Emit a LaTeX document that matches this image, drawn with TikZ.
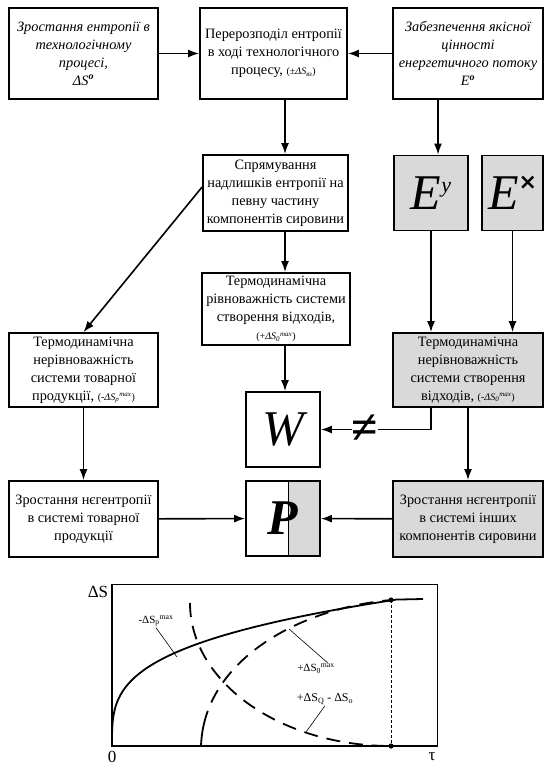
\documentclass[tikz,border=0pt]{standalone}
\usepackage{fontspec}
\setmainfont{Liberation Serif}
\newfontfamily\crossfont{DejaVu Sans}
\usepackage{tikz}
\usetikzlibrary{arrows.meta,positioning,calc}
\definecolor{boxgray}{RGB}{217,217,217}
\tikzstyle{arrow} = [line width=1.6pt,-{Latex[length=11pt,width=8pt]}]
\tikzstyle{block} = [rectangle, draw, line width=1.8pt, minimum width=149pt, minimum height=74pt, inner sep=1pt, align=center, font=\fontsize{14.3}{18}\selectfont]
\tikzstyle{grayblock} = [block, fill=boxgray]
\tikzstyle{letterbox} = [block, minimum width=74pt, minimum height=75pt, font=\fontsize{50}{50}\selectfont\itshape]
\tikzstyle{note} = [inner sep=1pt, font=\fontsize{11}{13}\selectfont]
\tikzstyle{leader} = [line width=0.6pt]
\tikzstyle{curve} = [line width=1.8pt]
\tikzstyle{dashcurve} = [line width=1.8pt, dash pattern=on 14pt off 9pt]
\newcommand{\smallpar}[1]{{\fontsize{10}{12}\selectfont #1}}

\begin{document}
\begin{tikzpicture}[x=1pt,y=-1pt]
    \useasboundingbox (0,0) rectangle (546,768);

    % Top row
    \node[block, minimum height=91pt, font=\fontsize{14.3}{18}\selectfont\itshape] (growS) at (83.5,53.5) {Зростання ентропії в\\технологічному\\процесі,\\ΔS\textsuperscript{\textbf{o}}};
    \node[block, minimum width=147pt, minimum height=91pt] (redist) at (273.5,53.5) {Перерозподіл ентропії\\в ході технологічного\\процесу, \smallpar{(±\textit{ΔS\textsubscript{вз}})}};
    \node[block, minimum width=150pt, minimum height=91pt, font=\fontsize{14.3}{18}\selectfont\itshape] (quality) at (468,53.5) {Забезпечення якісної\\цінності\\енергетичного потоку\\E\textsuperscript{\textbf{o}}};

    % Second row
    \node[block, minimum width=145pt, minimum height=76pt] (direct) at (275.5,193) {Спрямування\\надлишків ентропії на\\певну частину\\компонентів сировини};
    \node[letterbox, fill=boxgray] (Ey) at (431,193) {E\raisebox{17pt}{\fontsize{22}{22}\selectfont у}};
    \node[letterbox, fill=boxgray, minimum width=61pt] (Ex) at (512.5,193) {E\raisebox{20pt}{\crossfont\bfseries\fontsize{22}{22}\selectfont ×}};

    % Equilibrium states
    \node[block, minimum width=148pt, minimum height=72pt] (equil) at (276,309) {Термодинамічна\\рівноважність системи\\створення відходів,\\\smallpar{(+\textit{ΔS\textsubscript{0}\textsuperscript{max}})}};
    \node[block, minimum height=74pt] (noneqP) at (83.5,370) {Термодинамічна\\нерівноважність\\системи товарної\\продукції, \smallpar{(-\textit{ΔS\textsubscript{p}\textsuperscript{max}})}};
    \node[grayblock, minimum width=150pt, minimum height=74pt] (noneqW) at (468,370) {Термодинамічна\\нерівноважність\\системи створення\\відходів, \smallpar{(-\textit{ΔS\textsubscript{0}\textsuperscript{max}})}};

    % W and P
    \node[letterbox] (W) at (283,429.5) {W};
    \node[letterbox, font=\fontsize{50}{50}\selectfont\bfseries\itshape, path picture={
        \fill[boxgray] ($(path picture bounding box.north)+(5,0)$) rectangle (path picture bounding box.south east);
        \draw[line width=1pt] ($(path picture bounding box.north)+(5,0)$) -- ($(path picture bounding box.south)+(5,0)$);
    }] (P) at (283,518.5) {P};

    % Bottom row
    \node[block, minimum height=76pt] (negP) at (83.5,519) {Зростання нєгентропії\\в системі товарної\\продукції};
    \node[grayblock, minimum width=150pt, minimum height=76pt] (negW) at (468,519) {Зростання нєгентропії\\в системі інших\\компонентів сировини};

    % Arrows
    \coordinate (colC) at (285,0);
    \coordinate (colE) at (438,0);
    \draw[arrow] (growS) -- (redist);
    \draw[arrow] (quality) -- (redist);
    \draw[arrow] (redist.south -| colC) -- (direct.north -| colC);
    \draw[arrow] (quality.south -| colE) -- (Ey.north -| colE);
    \draw[arrow] (direct.south -| colC) -- (equil.north -| colC);
    \draw[arrow] ($(direct.west)+(0,-6)$) -- (noneqP.north);
    \draw[arrow] (Ey.south) -- (noneqW.north -| Ey.south);
    \draw[arrow] (Ex.south) -- (noneqW.north -| Ex.south);
    \draw[arrow] (equil.south -| colC) -- (W.north -| colC);
    \draw[arrow] (noneqW.south -| Ey) |- node[pos=0.8, fill=white, inner sep=0pt, font=\fontsize{48}{48}\selectfont\bfseries] (neq) {≠} (W.east);
    \draw[arrow] (noneqP) -- (negP);
    \draw[arrow] (noneqW) -- (negW);
    \draw[arrow] (negP) -- (P);
    \draw[arrow] (negW) -- (P);

    % Graph
    \coordinate (O) at (112,746);
    \draw[line width=0.8pt] (112,584) rectangle (437,746);
    \draw[curve] (112,584) -- (O) -- (437,746);
    \draw[curve] plot[domain=0:1, samples=120, smooth] ({112+288*\x^10}, {746-147*\x^3}) -- (423,599);
    \draw[dashcurve, dash pattern=on 36pt off 9pt on 14pt off 9pt on 14pt off 9pt on 14pt off 9pt on 14pt off 9pt on 14pt off 9pt on 14pt off 9pt on 14pt off 9pt on 14pt off 9pt on 14pt off 9pt on 30pt off 9pt] (201,746) .. controls (204,660) and (300,608) .. (391,600);
    \draw[dashcurve] (190,603) arc[start angle=180, end angle=90, x radius=201, y radius=143];
    \draw[leader, dash pattern=on 3pt off 2pt] (391,600) -- (391,746);
    \fill (391,600) circle[radius=2.6];
    \fill (391,746) circle[radius=2.6];

    \node[font=\fontsize{17}{17}\selectfont] (dS) at (98,592) {ΔS};
    \node[font=\fontsize{17}{17}\selectfont] (zero) at (112,757) {0};
    \node[font=\fontsize{17}{17}\selectfont] (tau) at (432,757) {τ};

    \node[note] (lblP) at (156,621) {-ΔS\textsubscript{p}\textsuperscript{max}};
    \node[note] (lblO) at (316,669) {+ΔS\textsubscript{0}\textsuperscript{max}};
    \node[note, font=\fontsize{12}{14}\selectfont] (lblQ) at (325,699) {+ΔS\textsubscript{Q} - ΔS\textsubscript{o}};
    \coordinate (onP) at (177,657);
    \coordinate (onO) at (289,629);
    \coordinate (onQ) at (306,732);
    \draw[leader] (lblP.south) -- (onP);
    \draw[leader] (onO) -- ($(lblO.north)+(12,0)$);
    \draw[leader] (lblQ.south) -- (onQ);
\end{tikzpicture}
\end{document}
